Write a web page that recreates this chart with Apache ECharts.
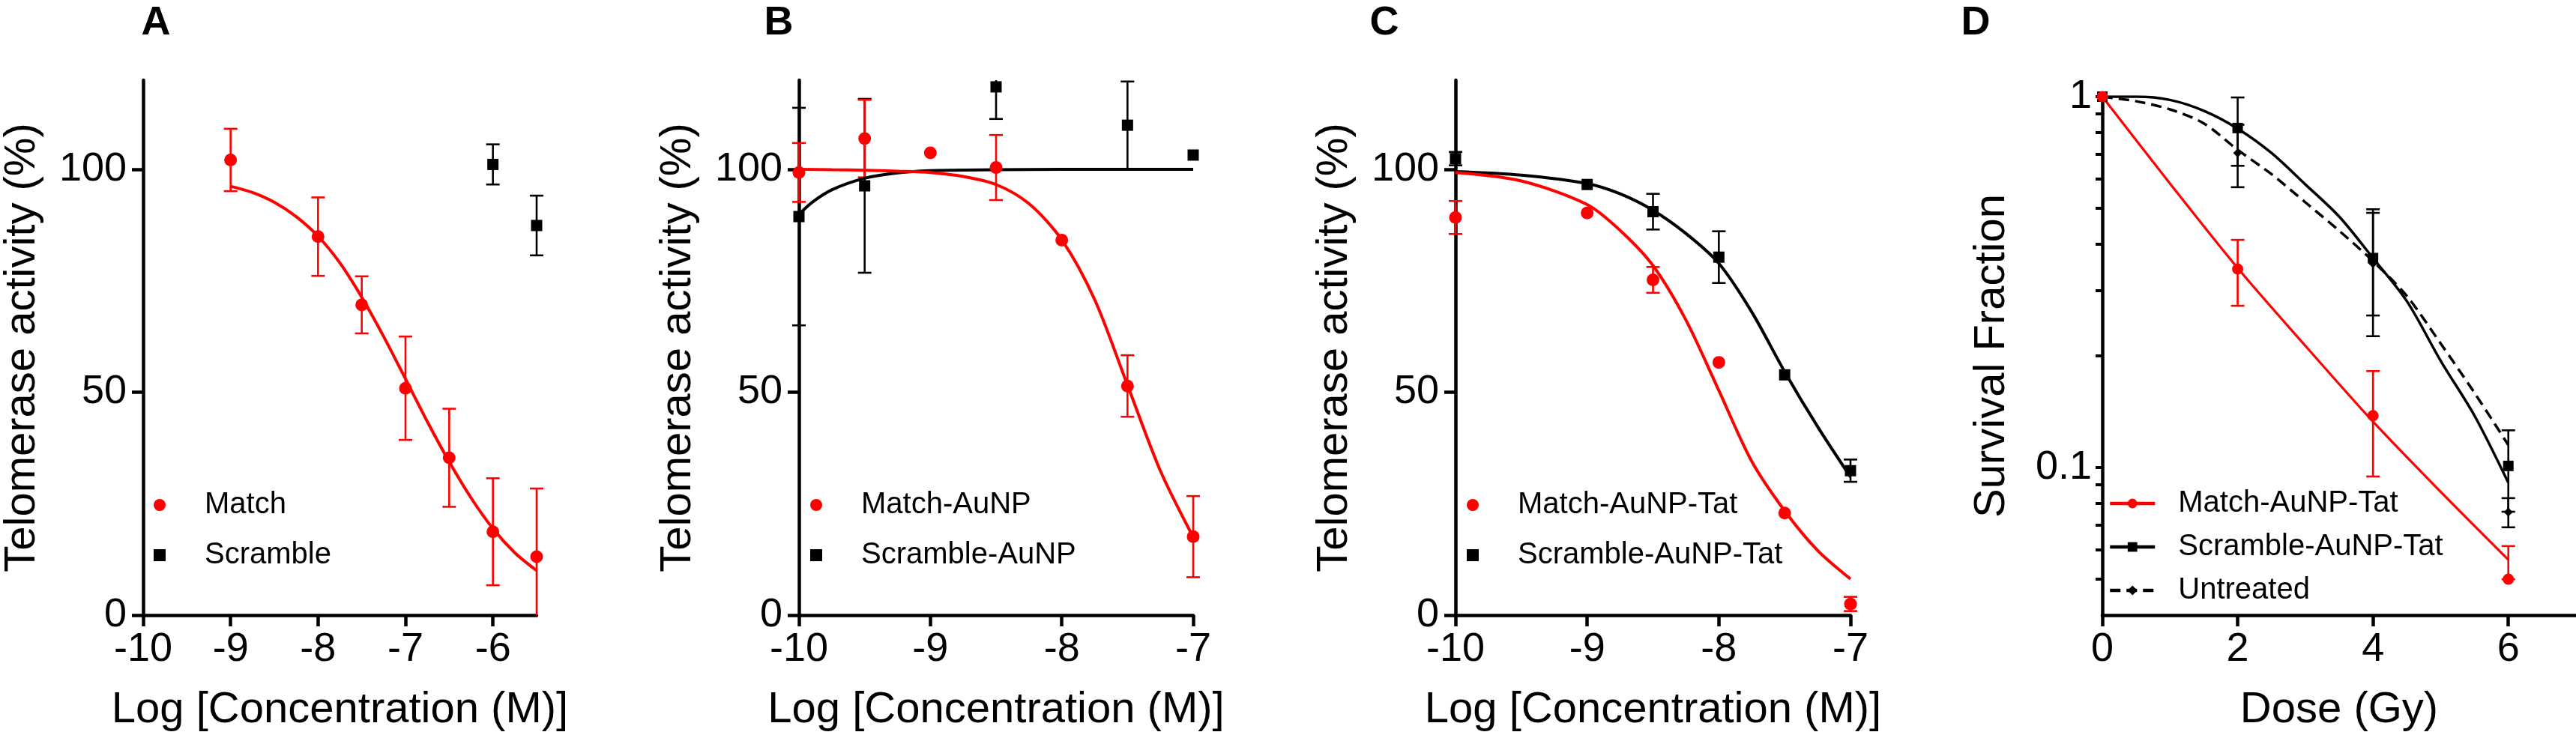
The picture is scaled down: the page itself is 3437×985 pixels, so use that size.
<!DOCTYPE html>
<html><head><meta charset="utf-8">
<script src="https://cdn.jsdelivr.net/npm/echarts@6/dist/echarts.min.js"></script>
<style>html,body{margin:0;padding:0;background:#fff}#c{width:3437px;height:985px}</style>
</head><body><div id="c"></div>
<script>
// ---------- Panel A ----------
const xA = [-9, -8, -7.5, -7, -6.5, -6, -5.5];
const matchA = [102.1, 84.9, 69.6, 50.9, 35.3, 18.7, 13.1];
const matchAErr = [7.0, 8.8, 6.4, 11.6, 11.0, 12.0, 15.3];
const xAScr = [-6, -5.5];
const scrambleA = [101.1, 87.4];
const scrambleAErr = [4.5, 6.7];
const fitAX = [-9, -8.75, -8.5, -8.25, -8, -7.75, -7.5, -7.25, -7, -6.75, -6.5, -6.25, -6, -5.75, -5.5];
const fitAMatch = [96.2, 94.8, 92.6, 89.4, 85.0, 79.0, 71.3, 62.5, 53.0, 43.4, 34.4, 26.3, 19.4, 14.0, 10.0];

// ---------- Panel B ----------
const xB = [-10, -9.5, -9, -8.5, -8, -7.5, -7];
const matchB = [99.3, 106.9, 103.7, 100.4, 84.1, 51.4, 17.6];
const matchBErr = [6.6, 8.7, 0, 7.3, 0, 6.9, 9.1];
const xBScr = [-10, -9.5, -8.5, -7.5, -7];
const scrambleB = [89.4, 96.3, 118.5, 109.9, 103.2];
const scrambleBErr = [24.4, 19.5, 7.2, 9.8, 0];
const fitBScrX = [-10, -9.9, -9.75, -9.5, -9.25, -9, -8.5, -8, -7.5, -7];
const fitBScr = [89.9, 92.6, 95.4, 98.0, 99.2, 99.7, 99.9, 100, 100, 100];
const fitBMatchX = [-10, -9.75, -9.5, -9.25, -9, -8.75, -8.5, -8.25, -8, -7.75, -7.5, -7.25, -7];
const fitBMatch = [100, 99.9, 99.8, 99.6, 99.3, 98.4, 96.6, 92.3, 84.2, 70.8, 51.6, 32.4, 17.5];

// ---------- Panel C ----------
const xC = [-10, -9, -8.5, -8, -7.5, -7];
const matchC = [89.2, 90.2, 75.2, 56.7, 22.9, 2.5];
const matchCErr = [3.7, 0, 2.9, 0, 0, 1.6];
const scrambleC = [102.4, 96.6, 90.5, 80.3, 53.9, 32.4];
const scrambleCErr = [1.5, 0, 4.0, 5.8, 0, 2.5];
const fitCX = [-10, -9.5, -9, -8.75, -8.5, -8.25, -8, -7.75, -7.5, -7.25, -7];
const fitCScr = [99.5, 98.7, 96.8, 94.5, 90.8, 85.6, 78.9, 68.0, 54.6, 42.3, 31.0];
const fitCMatch = [99.3, 97.4, 92.1, 86.3, 78.4, 66.2, 50.4, 34.5, 23.4, 14.5, 8.1];

// ---------- Panel D ----------
const xD = [0, 2, 4, 6];
const matchD = [1.0, 0.343, 0.138, 0.050];
const matchDLow = [1.0, 0.273, 0.0946, 0.050];
const matchDHigh = [1.0, 0.411, 0.182, 0.0614];
const scrambleD = [1.0, 0.823, 0.367, 0.101];
const scrambleDLow = [1.0, 0.651, 0.226, 0.076];
const scrambleDHigh = [1.0, 0.995, 0.497, 0.126];
const untreatedD = [1.0, 0.705, 0.355, 0.0758];
const untreatedDLow = [1.0, 0.570, 0.257, 0.069];
const untreatedDHigh = [1.0, 0.840, 0.486, 0.0827];
const fitDMatchX = [0, 1, 2, 3, 4, 5, 6];
const fitDMatch = [1.0, 0.583, 0.345, 0.213, 0.133, 0.086, 0.0564];
const fitDX = [0, 0.5, 1, 1.5, 2, 2.5, 3, 3.5, 4, 4.5, 5, 5.5, 6];
const fitDScr = [1.0, 1.0, 0.98, 0.916, 0.82, 0.705, 0.58, 0.475, 0.367, 0.281, 0.194, 0.138, 0.091];
const fitDUnt = [1.0, 0.972, 0.924, 0.847, 0.719, 0.618, 0.519, 0.435, 0.36, 0.29, 0.216, 0.159, 0.115];

// tick labels
const ticksXA = [-10, -9, -8, -7, -6];
const ticksXBC = [-10, -9, -8, -7];
const ticksYABC = [0, 50, 100];
const ticksXD = [0, 2, 4, 6];
const ticksYDLabels = [0.1, 1];
const ticksYDMinor = [0.05, 0.06, 0.07, 0.08, 0.09, 0.1, 0.2, 0.3, 0.4, 0.5, 0.6, 0.7, 0.8, 0.9, 1];

const RED = '#ff0000', BLACK = '#000000';
const FONT = 'Liberation Sans';

const zip = (xs, ys) => xs.map((x, i) => [x, ys[i]]);
const errSym = (xs, ys, es) => xs.map((x, i) => [x, ys[i], ys[i] - es[i], ys[i] + es[i]]).filter((r, i) => es[i] > 0);
const errLH = (xs, ys, lo, hi) => xs.map((x, i) => [x, ys[i], lo[i], hi[i]]).filter(r => r[3] - r[2] > 0);

function errRender(color, capW, lw) {
  return function (params, api) {
    const x = api.value(0), lo = api.value(2), hi = api.value(3);
    const cs = params.coordSys;
    const pHi = api.coord([x, hi]);
    const pLo = api.coord([x, lo]);
    const top = Math.max(pHi[1], cs.y);
    const bot = Math.min(pLo[1], cs.y + cs.height);
    const st = { stroke: color, lineWidth: lw };
    const ch = [{ type: 'line', shape: { x1: pHi[0], y1: top, x2: pHi[0], y2: bot }, style: st }];
    if (pHi[1] >= cs.y - 0.5) ch.push({ type: 'line', shape: { x1: pHi[0] - capW / 2, y1: pHi[1], x2: pHi[0] + capW / 2, y2: pHi[1] }, style: st });
    if (pLo[1] <= cs.y + cs.height + 0.5) ch.push({ type: 'line', shape: { x1: pLo[0] - capW / 2, y1: pLo[1], x2: pLo[0] + capW / 2, y2: pLo[1] }, style: st });
    return { type: 'group', children: ch };
  };
}

const grids = [
  { left: 189, top: 107, width: 527, height: 714 },
  { left: 1066, top: 107, width: 526, height: 714 },
  { left: 1942, top: 107, width: 527, height: 714 },
  { left: 2805, top: 129, width: 636, height: 692 }
];

const axisLineStyle = { lineStyle: { color: BLACK, width: 4.5 } };
const nameStyle = { fontFamily: FONT, fontSize: 58, color: BLACK };
const labelStyle = { fontFamily: FONT, fontSize: 54, color: BLACK };

function xAxisConc(gi, min, max, ticks) {
  return {
    type: 'value', gridIndex: gi, min: min, max: max,
    name: 'Log [Concentration (M)]', nameLocation: 'middle', nameGap: 98, nameTextStyle: nameStyle,
    axisLine: Object.assign({ onZero: false }, axisLineStyle),
    axisTick: { length: 15, lineStyle: { width: 4.5, color: BLACK }, customValues: ticks },
    axisLabel: Object.assign({ margin: 19, customValues: ticks }, labelStyle),
    splitLine: { show: false }
  };
}
function yAxisAct(gi) {
  return {
    type: 'value', gridIndex: gi, min: 0, max: 120,
    name: 'Telomerase activity (%)', nameLocation: 'middle', nameGap: 132, nameRotate: 90, nameTextStyle: nameStyle,
    axisLine: Object.assign({ onZero: false }, axisLineStyle),
    axisTick: { length: 15, lineStyle: { width: 4.5, color: BLACK }, customValues: ticksYABC },
    axisLabel: Object.assign({ margin: 22, customValues: ticksYABC }, labelStyle),
    splitLine: { show: false }
  };
}

const xAxes = [
  xAxisConc(0, -10, -5.5, ticksXA),
  xAxisConc(1, -10, -7, ticksXBC),
  xAxisConc(2, -10, -7, ticksXBC),
  {
    type: 'value', gridIndex: 3, min: 0, max: 7,
    name: 'Dose (Gy)', nameLocation: 'middle', nameGap: 98, nameTextStyle: nameStyle,
    axisLine: Object.assign({ onZero: false }, axisLineStyle),
    axisTick: { length: 15, lineStyle: { width: 4.5, color: BLACK }, customValues: ticksXD },
    axisLabel: Object.assign({ margin: 19, customValues: ticksXD }, labelStyle),
    splitLine: { show: false }
  }
];
const yAxes = [
  yAxisAct(0), yAxisAct(1), yAxisAct(2),
  {
    type: 'log', logBase: 10, gridIndex: 3, min: 0.04, max: 1,
    name: 'Survival Fraction', nameLocation: 'middle', nameGap: 118, nameRotate: 90, nameTextStyle: nameStyle,
    axisLine: Object.assign({ onZero: false }, axisLineStyle),
    axisTick: { length: 9, lineStyle: { width: 4, color: BLACK }, customValues: ticksYDMinor },
    axisLabel: Object.assign({ margin: 14, customValues: ticksYDLabels, formatter: v => String(+(+v).toPrecision(3)) }, labelStyle),
    splitLine: { show: false }
  }
];

function scatter(name, gi, data, color, symbol, size) {
  return { type: 'scatter', name: name, xAxisIndex: gi, yAxisIndex: gi, data: data, symbol: symbol, symbolSize: size,
    itemStyle: { color: color, opacity: 1 }, z: 5, clip: false, silent: true };
}
function fitLine(name, gi, data, color, width, type, symbol) {
  return { type: 'line', name: name, xAxisIndex: gi, yAxisIndex: gi, data: data, smooth: 0.3,
    symbol: symbol || 'none', showSymbol: false, symbolSize: 14,
    lineStyle: { color: color, width: width, type: type || 'solid' }, itemStyle: { color: color }, z: 3, silent: true };
}
function errBars(gi, data, color) {
  return { type: 'custom', xAxisIndex: gi, yAxisIndex: gi, data: data, renderItem: errRender(color, 18, 2.6), z: 2, clip: false, silent: true };
}

const series = [
  // A
  fitLine('A|fit', 0, zip(fitAX, fitAMatch), RED, 4),
  errBars(0, errSym(xA, matchA, matchAErr), RED),
  errBars(0, errSym(xAScr, scrambleA, scrambleAErr), BLACK),
  scatter('A|Match', 0, zip(xA, matchA), RED, 'circle', 17),
  scatter('A|Scramble', 0, zip(xAScr, scrambleA), BLACK, 'rect', 15),
  // B
  fitLine('B|fitS', 1, zip(fitBScrX, fitBScr), BLACK, 4),
  fitLine('B|fitM', 1, zip(fitBMatchX, fitBMatch), RED, 4),
  errBars(1, errSym(xBScr, scrambleB, scrambleBErr), BLACK),
  errBars(1, errSym(xB, matchB, matchBErr), RED),
  scatter('B|Match-AuNP', 1, zip(xB, matchB), RED, 'circle', 17),
  scatter('B|Scramble-AuNP', 1, zip(xBScr, scrambleB), BLACK, 'rect', 15),
  // C
  fitLine('C|fitS', 2, zip(fitCX, fitCScr), BLACK, 4),
  fitLine('C|fitM', 2, zip(fitCX, fitCMatch), RED, 4),
  errBars(2, errSym(xC, scrambleC, scrambleCErr), BLACK),
  errBars(2, errSym(xC, matchC, matchCErr), RED),
  scatter('C|Match-AuNP-Tat', 2, zip(xC, matchC), RED, 'circle', 17),
  scatter('C|Scramble-AuNP-Tat', 2, zip(xC, scrambleC), BLACK, 'rect', 15),
  // D
  fitLine('D|Untreated', 3, zip(fitDX, fitDUnt), BLACK, 3.5, [14, 8], 'diamond'),
  fitLine('D|Scramble-AuNP-Tat', 3, zip(fitDX, fitDScr), BLACK, 3.5, 'solid', 'rect'),
  fitLine('D|Match-AuNP-Tat', 3, zip(fitDMatchX, fitDMatch), RED, 3.2, 'solid', 'circle'),
  errBars(3, errLH(xD, untreatedD, untreatedDLow, untreatedDHigh), BLACK),
  errBars(3, errLH(xD, scrambleD, scrambleDLow, scrambleDHigh), BLACK),
  errBars(3, errLH(xD, matchD, matchDLow, matchDHigh), RED),
  scatter('D|u', 3, zip(xD, untreatedD), BLACK, 'diamond', 12),
  scatter('D|s', 3, zip(xD, scrambleD), BLACK, 'rect', 14),
  scatter('D|m', 3, zip(xD, matchD), RED, 'circle', 15)
];

const legTxt = { fontFamily: FONT, fontSize: 40, color: BLACK, lineHeight: 40 };
const fmt = n => n.split('|')[1];
function legendABC(left, names) {
  return { orient: 'vertical', left: left, top: 654, padding: 0, itemGap: 27, itemWidth: 16, itemHeight: 16,
    data: names, formatter: fmt, textStyle: Object.assign({ padding: [0, 0, 0, 47] }, legTxt), selectedMode: false };
}
const legends = [
  legendABC(205, ['A|Match', 'A|Scramble']),
  legendABC(1081, ['B|Match-AuNP', 'B|Scramble-AuNP']),
  legendABC(1957, ['C|Match-AuNP-Tat', 'C|Scramble-AuNP-Tat']),
  { orient: 'vertical', left: 2813, top: 652, padding: 0, itemGap: 18, itemWidth: 60, itemHeight: 16,
    data: ['D|Match-AuNP-Tat', 'D|Scramble-AuNP-Tat', 'D|Untreated'], formatter: fmt,
    lineStyle: { width: 4.5 },
    textStyle: Object.assign({ padding: [0, 0, 0, 26] }, legTxt), selectedMode: false }
];

const panelLetters = [['A', 208], ['B', 1039], ['C', 1847], ['D', 2636]];
const graphics = panelLetters.map(p => ({
  type: 'text', x: p[1], y: 31,
  style: { text: p[0], fill: BLACK, font: 'bold 54px "' + FONT + '"', textAlign: 'center', textVerticalAlign: 'middle' }
}));

const chart = echarts.init(document.getElementById('c'), null, { renderer: 'canvas' });
chart.setOption({
  animation: false,
  backgroundColor: '#ffffff',
  grid: grids,
  xAxis: xAxes,
  yAxis: yAxes,
  legend: legends,
  graphic: graphics,
  series: series
});
</script></body></html>
